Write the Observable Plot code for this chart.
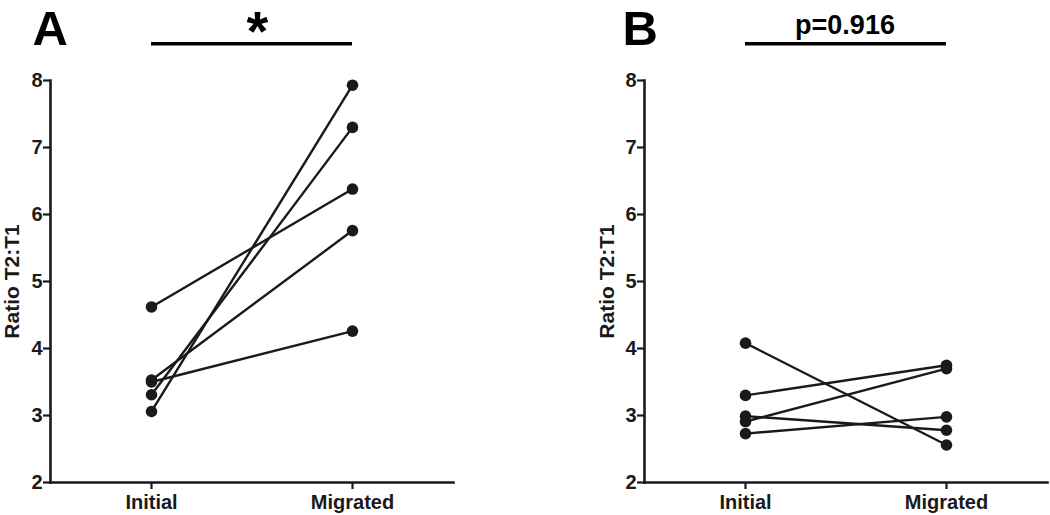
<!DOCTYPE html>
<html>
<head>
<meta charset="utf-8">
<script src="https://cdn.jsdelivr.net/npm/d3@7"></script>
<script src="https://cdn.jsdelivr.net/npm/@observablehq/plot@0.6"></script>
<style>
  html, body { margin: 0; padding: 0; background: #fff; }
  #wrap { display: flex; width: 1050px; height: 515px; }
</style>
</head>
<body>
<div id="wrap"></div>
<script>
// ---- data ----
const groups = ["Initial", "Migrated"];
const yTicks = [2, 3, 4, 5, 6, 7, 8];
const yLabel = "Ratio T2:T1";

const panelA_initial  = [4.62, 3.06, 3.31, 3.53, 3.50];
const panelA_migrated = [6.38, 7.93, 7.30, 5.76, 4.26];

const panelB_initial  = [4.08, 3.30, 2.91, 2.99, 2.73];
const panelB_migrated = [2.56, 3.75, 3.70, 2.78, 2.98];

const panels = [
  {letter: "A", stat: "*", initial: panelA_initial, migrated: panelA_migrated},
  {letter: "B", stat: "p=0.916", initial: panelB_initial, migrated: panelB_migrated}
];

const font = "'Liberation Sans', Arial, Helvetica, sans-serif";
const ink = "#1a1a1a";

function makePanel(p, i) {
  const pairs = p.initial.map((v, k) => ({id: k, a: v, b: p.migrated[k]}));
  const pts = pairs.flatMap(d => [{g: groups[0], v: d.a}, {g: groups[1], v: d.b}]);
  const isA = i === 0;
  const mL = isA ? 50 : 119;
  const mR = isA ? 72 : 3;
  const statSize = isA ? 56 : 27;
  const statDy = isA ? -31 : -47;
  const statDx = isA ? 5.5 : -1;
  return Plot.plot({
    width: 525,
    height: 515,
    marginLeft: mL,
    marginRight: mR,
    marginTop: 80,
    marginBottom: 33,
    style: {fontFamily: font, fontWeight: "bold", fontSize: "20px", color: ink, background: "#fff", overflow: "visible"},
    x: {type: "point", domain: groups, padding: 0.5, label: null},
    y: {domain: [2, 8], label: null},
    marks: [
      Plot.frame({anchor: "left", stroke: ink, strokeWidth: 2.6}),
      Plot.frame({anchor: "bottom", stroke: ink, strokeWidth: 2.6}),
      Plot.axisY({ticks: yTicks, tickSize: 7, tickPadding: 1, tickFormat: d3.format("d"), fontSize: 20, fontWeight: "bold", stroke: ink, strokeWidth: 2.2, fill: ink, label: null}),
      Plot.axisX({tickSize: 7, tickPadding: 5, fontSize: 20, fontWeight: "bold", stroke: ink, strokeWidth: 2.2, fill: ink, label: null}),
      Plot.text([yLabel], {frameAnchor: "left", rotate: -90, textAnchor: "middle", lineAnchor: "bottom", dx: isA ? -32 : -31, fontSize: 21, fontWeight: "bold", fill: ink}),
      Plot.link(pairs, {x1: () => groups[0], x2: () => groups[1], y1: "a", y2: "b", stroke: ink, strokeWidth: 2.4}),
      Plot.dot(pts, {x: "g", y: "v", r: 5.8, fill: ink, stroke: "none"}),
      Plot.ruleY([8.55], {x1: () => groups[0], x2: () => groups[1], stroke: "#000", strokeWidth: 3.5}),
      Plot.text([p.letter], {frameAnchor: "top-left", textAnchor: "start", lineAnchor: "bottom", dx: isA ? -18 : -22, dy: -35.5, fontSize: 49, fontWeight: "bold", fill: "#000"}),
      Plot.text([p.stat], {frameAnchor: "top", textAnchor: "middle", lineAnchor: "bottom", dx: statDx, dy: statDy, fontSize: statSize, fontWeight: "bold", fill: "#000"})
    ]
  });
}

const wrap = document.getElementById("wrap");
panels.forEach((p, i) => wrap.appendChild(makePanel(p, i)));
</script>
</body>
</html>
